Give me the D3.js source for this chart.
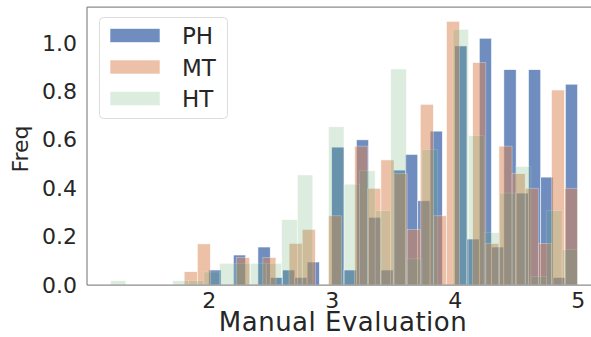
<!DOCTYPE html>
<html>
<head>
<meta charset="utf-8">
<script src="https://cdn.jsdelivr.net/npm/d3@7"></script>
<style>
  body { margin: 0; background: #fff; }
  svg { display: block; font-family: "DejaVu Sans", sans-serif; }
</style>
</head>
<body>
<div id="chart"></div>
<script>
// histogram densities, 30 bins per series over its own range
const series = ['PH', 'MT', 'HT'];
const phRange = [2.0, 5.0];
const mtRange = [1.8, 5.0];
const htRange = [1.2, 5.0];

const phValues = [0.062, 0, 0.124, 0, 0.157, 0.031, 0.062, 0.031, 0.095, 0,
  0.57, 0.062, 0.60, 0.28, 0.062, 0.475, 0.54, 0.348, 0.636, 0,
  0.988, 0.19, 1.02, 0.157, 0.89, 0.38, 0.89, 0.446, 0.031, 0.83];
const mtValues = [0.055, 0.17, 0, 0, 0.114, 0, 0.114, 0, 0.172, 0.23,
  0, 0.286, 0, 0.574, 0.40, 0.517, 0.46, 0.23, 0.747, 0.286,
  1.09, 0, 0.92, 0.172, 0.574, 0.46, 0.40, 0.172, 0.806, 0.40];
const htValues = [0.018, 0, 0, 0, 0.018, 0.018, 0.054, 0.09, 0.09, 0.09,
  0.09, 0.27, 0.455, 0, 0.654, 0.417, 0.472, 0.307, 0.893, 0.108,
  0.56, 0, 1.057, 0.617, 0.216, 0.38, 0.49, 0.036, 0.307, 0.147];

const xTicks = [2, 3, 4, 5];
const yTicks = [0, 0.2, 0.4, 0.6, 0.8, 1.0];

const width = 591, height = 337;
const margin = { top: 7, left: 87, bottom: 52 };

const svg = d3.select('#chart').append('svg')
  .attr('width', width)
  .attr('height', height);

const x = d3.scaleLinear().domain([1.01, 5.19]).range([margin.left, 601]);
const y = d3.scaleLinear().domain([0, 1.149]).range([height - margin.bottom, margin.top]);

const colors = { PH: '#4c72b0', MT: '#dd8452', HT: '#55a868' };
const alphas = { PH: 0.8, MT: 0.5, HT: 0.2 };

const data = [
  { name: 'PH', range: phRange, values: phValues },
  { name: 'MT', range: mtRange, values: mtValues },
  { name: 'HT', range: htRange, values: htValues }
];

// bars
data.forEach(s => {
  const step = (s.range[1] - s.range[0]) / s.values.length;
  const bins = s.values.map((v, i) => ({
    x0: s.range[0] + i * step,
    x1: s.range[0] + (i + 1) * step,
    v
  })).filter(d => d.v > 0);

  svg.append('g')
    .selectAll('rect')
    .data(bins)
    .join('rect')
    .attr('x', d => x(d.x0))
    .attr('width', d => x(d.x1) - x(d.x0))
    .attr('y', d => y(d.v))
    .attr('height', d => y(0) - y(d.v))
    .attr('fill', colors[s.name])
    .attr('stroke', '#fff')
    .attr('stroke-width', 0.6)
    .attr('opacity', alphas[s.name]);
});

// spines
const spine = '#8c8c8c';
svg.append('line').attr('x1', x.range()[0]).attr('x2', x.range()[1])
  .attr('y1', y(0)).attr('y2', y(0)).attr('stroke', spine).attr('stroke-width', 1.25);
svg.append('line').attr('x1', x.range()[0]).attr('x2', x.range()[1])
  .attr('y1', margin.top).attr('y2', margin.top).attr('stroke', spine).attr('stroke-width', 1.25);
svg.append('line').attr('x1', x.range()[0]).attr('x2', x.range()[0])
  .attr('y1', margin.top).attr('y2', y(0)).attr('stroke', spine).attr('stroke-width', 1.25);

// axes (labels only, no tick marks)
const xAxis = svg.append('g')
  .attr('transform', `translate(0,${y(0)})`)
  .call(d3.axisBottom(x).tickValues(xTicks).tickFormat(d3.format('d')).tickSize(0).tickPadding(7));
const yAxis = svg.append('g')
  .attr('transform', `translate(${margin.left},0)`)
  .call(d3.axisLeft(y).tickValues(yTicks).tickFormat(d3.format('.1f')).tickSize(0).tickPadding(10));
[xAxis, yAxis].forEach(a => {
  a.select('.domain').remove();
  a.selectAll('text')
    .attr('fill', '#262626')
    .style('font-size', '22px')
    .style('font-family', '"DejaVu Sans", sans-serif');
});

svg.append('text')
  .attr('x', 343).attr('y', 331)
  .attr('text-anchor', 'middle')
  .attr('fill', '#262626')
  .style('font-size', '26px')
  .style('letter-spacing', '0.5px')
  .text('Manual Evaluation');

svg.append('text')
  .attr('transform', 'translate(28,149) rotate(-90)')
  .attr('text-anchor', 'middle')
  .attr('fill', '#262626')
  .style('font-size', '22px')
  .text('Freq');

// legend
const legend = svg.append('g');
legend.append('rect')
  .attr('x', 99.5).attr('y', 17.5)
  .attr('width', 128).attr('height', 101)
  .attr('rx', 4)
  .attr('fill', '#fff').attr('fill-opacity', 0.8)
  .attr('stroke', '#dcdcdc');
series.forEach((name, i) => {
  const cy = 35.5 + i * 31.5;
  legend.append('rect')
    .attr('x', 110).attr('y', cy - 7)
    .attr('width', 50).attr('height', 14)
    .attr('fill', colors[name])
    .attr('stroke', '#fff').attr('stroke-width', 0.6)
    .attr('opacity', alphas[name]);
  legend.append('text')
    .attr('x', 182).attr('y', cy + 8.5)
    .attr('fill', '#262626')
    .style('font-size', '23px')
    .text(name);
});
</script>
</body>
</html>
